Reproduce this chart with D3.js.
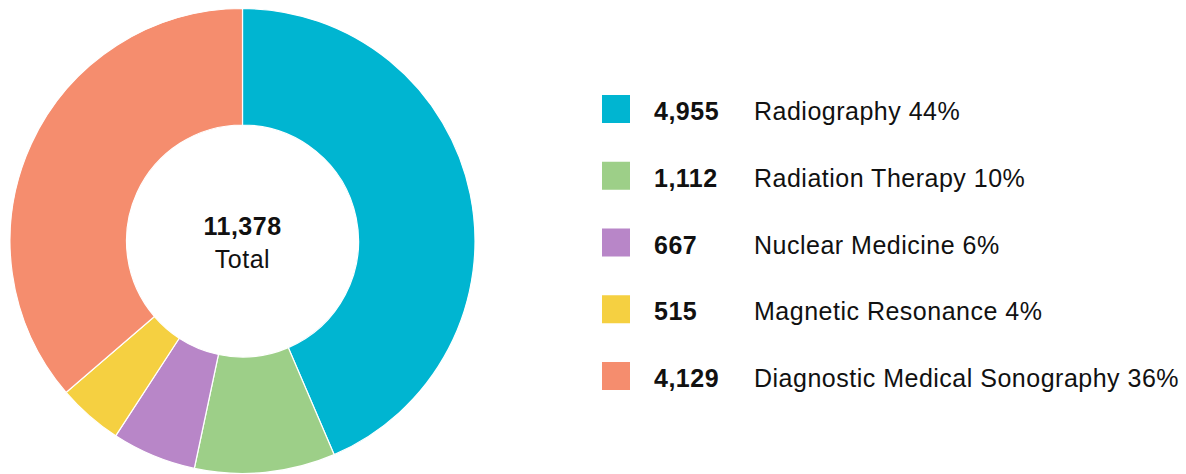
<!DOCTYPE html>
<html>
<head>
<meta charset="utf-8">
<script src="https://cdn.jsdelivr.net/npm/d3@7"></script>
<style>
body { margin: 0; background: #fff; }
text { font-family: "Liberation Sans", Arial, sans-serif; fill: #111; letter-spacing: 0.5px; }
</style>
</head>
<body>
<div id="chart"></div>
<script>
// chart data
var categories = ["Radiography", "Radiation Therapy", "Nuclear Medicine", "Magnetic Resonance", "Diagnostic Medical Sonography"];
var counts = [4955, 1112, 667, 515, 4129];
var percents = [44, 10, 6, 4, 36];
var colors = ["#00b5d1", "#9dcf88", "#b886c8", "#f5d041", "#f58d6e"];

var width = 1186, height = 474;
var cx = 242.5, cy = 241, outer_r = 232.5, inner_r = 116;

var svg = d3.select("#chart")
            .append("svg")
            .attr("width", width)
            .attr("height", height);

var fmt = d3.format(",");
var total = d3.sum(counts);

var pie = d3.pie().sort(null).value(function(d) { return d; });
var arc = d3.arc().innerRadius(inner_r).outerRadius(outer_r);

var donut = svg.append("g")
               .attr("transform", "translate(" + cx + "," + cy + ")");

donut.selectAll("path")
     .data(pie(counts))
     .enter()
     .append("path")
     .attr("d", arc)
     .style("fill", function(d, i) { return colors[i]; })
     .style("stroke", "#fff")
     .style("stroke-width", 1.2);

// total in the hole
donut.append("text")
     .attr("text-anchor", "middle")
     .attr("y", -6)
     .style("font-size", "25px")
     .style("font-weight", "bold")
     .text(fmt(total));

donut.append("text")
     .attr("text-anchor", "middle")
     .attr("y", 27)
     .style("font-size", "25px")
     .text("Total");

/* legend */
var row_y = d3.scalePoint()
              .domain(categories)
              .range([109, 376]);

var legend = svg.selectAll("g.legend")
                .data(categories)
                .enter()
                .append("g")
                .attr("class", "legend")
                .attr("transform", function(d) { return "translate(0," + row_y(d) + ")"; });

legend.append("rect")
      .attr("x", 602)
      .attr("y", -14)
      .attr("width", 28)
      .attr("height", 28)
      .style("fill", function(d, i) { return colors[i]; });

legend.append("text")
      .attr("x", 654)
      .attr("y", 11)
      .style("font-size", "25px")
      .style("font-weight", "bold")
      .text(function(d, i) { return fmt(counts[i]); });

legend.append("text")
      .attr("x", 754)
      .attr("y", 11)
      .style("font-size", "25px")
      .text(function(d, i) { return d + " " + percents[i] + "%"; });
</script>
</body>
</html>
